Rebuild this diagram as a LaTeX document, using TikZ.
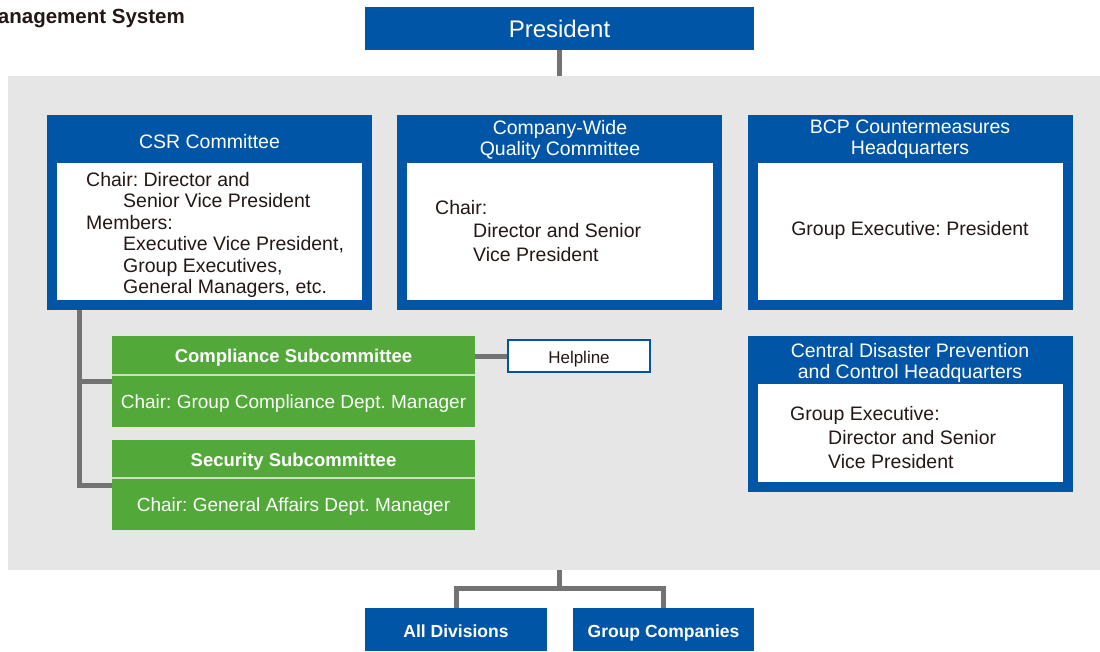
\documentclass[tikz,border=0pt]{standalone}
\usepackage{fontspec}
\setmainfont{Liberation Sans}
\usepackage{xcolor}
\usepackage{tikz}
\frenchspacing
\definecolor{bluecol}{RGB}{0,85,166}
\definecolor{greencol}{RGB}{82,168,56}
\definecolor{panelcol}{RGB}{230,230,230}
\definecolor{linkcol}{RGB}{115,115,115}
\definecolor{inkcol}{RGB}{35,24,21}
\definecolor{dividercol}{RGB}{200,226,190}

\tikzset{
  bluebox/.style={fill=bluecol, draw=none, inner sep=0pt},
  innerbox/.style={fill=white, draw=none, inner sep=0pt},
  greenbox/.style={fill=greencol, draw=none, inner sep=0pt, minimum width=363},
  whitetext/.style={text=white, align=center, inner sep=0pt},
  inktext/.style={text=inkcol, align=left, inner sep=0pt},
  bodyfont/.style={font=\fontsize{19.5}{#1}\selectfont},
  link/.style={draw=linkcol, line width=5pt},
  divider/.style={draw=dividercol, line width=1.5pt}
}

\begin{document}
\begin{tikzpicture}[x=1pt, y=-1pt, bodyfont=21.5]
  \useasboundingbox (0,0) rectangle (1100,651);
  \node[anchor=east, text=inkcol, inner sep=0pt, font=\bfseries\fontsize{20.5}{22}\selectfont] (title) at (185,19) {Management System};

  \node[fill=panelcol, inner sep=0pt, minimum width=1092, minimum height=494] (panel) at (554,323) {};
  \node[bluebox, text=white, minimum width=389, minimum height=43, font=\fontsize{24}{26}\selectfont] (president) at (559.5,28.5) {President};

  \node[bluebox, minimum width=325, minimum height=195] (csr) at (209.5,212.5) {};
  \node[innerbox, minimum width=305, minimum height=137] (csrbody) at (209.5,231.5) {};
  \node[whitetext] (csrtitle) at (209.5,141.5) {CSR Committee};
  \node[inktext, anchor=west, bodyfont=21.4] (csrtext) at (86,235) {Chair: Director and\\\hspace*{37pt}Senior Vice President\\Members:\\\hspace*{37pt}Executive Vice President,\\\hspace*{37pt}Group Executives,\\\hspace*{37pt}General Managers, etc.};

  \node[bluebox, minimum width=325, minimum height=195] (quality) at (559.5,212.5) {};
  \node[innerbox, minimum width=306, minimum height=137] (qualitybody) at (560,231.5) {};
  \node[whitetext, bodyfont=21] (qualitytitle) at (560,139.5) {Company-Wide\\Quality Committee};
  \node[inktext, anchor=west, bodyfont=23.5] (qualitytext) at (435,231) {Chair:\\\hspace*{38pt}Director and Senior\\\hspace*{38pt}Vice President};

  \node[bluebox, minimum width=325, minimum height=195] (bcp) at (910.5,212.5) {};
  \node[innerbox, minimum width=305, minimum height=137] (bcpbody) at (910.5,231.5) {};
  \node[whitetext, bodyfont=21] (bcptitle) at (910,139.5) {BCP Countermeasures\\Headquarters};
  \node[inktext] (bcptext) at (910,230.5) {Group Executive: President};

  \node[bluebox, minimum width=325, minimum height=156] (disaster) at (910.5,414) {};
  \node[innerbox, minimum width=305, minimum height=98] (disasterbody) at (910.5,433) {};
  \node[whitetext, bodyfont=21] (disastertitle) at (910,362.5) {Central Disaster Prevention\\and Control Headquarters};
  \node[inktext, anchor=west, bodyfont=24] (disastertext) at (790,437.5) {Group Executive:\\\hspace*{38pt}Director and Senior\\\hspace*{38pt}Vice President};

  \node[greenbox, minimum height=91] (compliance) at (293.5,381.5) {};
  \draw[divider] ([yshift=-39pt]compliance.north west) -- ([yshift=-39pt]compliance.north east);
  \node[whitetext, font=\bfseries\fontsize{18.5}{21}\selectfont] (compliancetitle) at (293.5,357.5) {Compliance Subcommittee};
  \node[whitetext, font=\fontsize{19}{21}\selectfont] (compliancetext) at (293.5,403.5) {Chair: Group Compliance Dept. Manager};

  \node[greenbox, minimum height=90] (security) at (293.5,485) {};
  \draw[divider] ([yshift=-38pt]security.north west) -- ([yshift=-38pt]security.north east);
  \node[whitetext, font=\bfseries\fontsize{18.5}{21}\selectfont] (securitytitle) at (293.5,461.5) {Security Subcommittee};
  \node[whitetext, font=\fontsize{19}{21}\selectfont] (securitytext) at (293.5,506.5) {Chair: General Affairs Dept. Manager};

  \node[fill=white, draw=bluecol, line width=1.5pt, text=inkcol, minimum width=142, minimum height=32, inner sep=0pt, text height=14pt, text depth=0pt, font=\fontsize{17}{19}\selectfont] (helpline) at (579,356) {Helpline};

  \node[bluebox, text=white, minimum width=182, minimum height=43, text height=15pt, text depth=0pt, font=\bfseries\fontsize{17.5}{20}\selectfont] (divisions) at (456,629.5) {All Divisions};
  \node[bluebox, text=white, minimum width=181, minimum height=43, text height=15pt, text depth=0pt, font=\bfseries\fontsize{17.5}{20}\selectfont] (groupcos) at (663.5,629.5) {Group Companies};

  \draw[link] (president.south) -- (president.south |- panel.north);
  \draw[link] ([xshift=33pt]csr.south west) |- (compliance.west);
  \draw[link] ([xshift=33pt]csr.south west) |- (security.west);
  \draw[link] (helpline.west) -- (helpline.west -| compliance.east);
  \draw[link] (panel.south -| president.south) -- ++(0,18) -| (divisions.north);
  \draw[link] (panel.south -| president.south) -- ++(0,18) -| (groupcos.north);
\end{tikzpicture}
\end{document}
